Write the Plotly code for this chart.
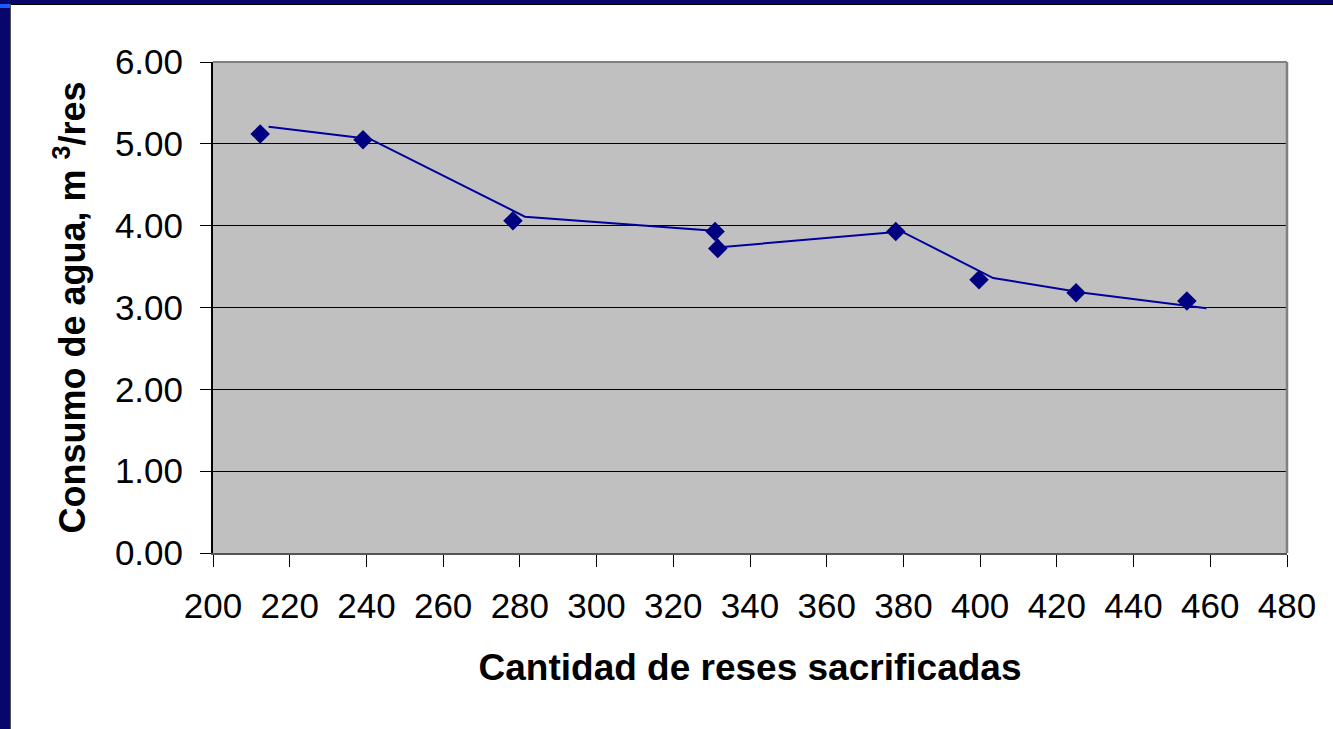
import plotly.graph_objects as go

# Data
marker_x = [212.3, 239.1, 278.2, 330.9, 331.6, 378.0, 399.7, 425.0, 453.9]
marker_y = [5.12, 5.05, 4.06, 3.93, 3.72, 3.93, 3.34, 3.18, 3.08]
line_x = [214.5, 240.9, 281.3, 329.6, 333.0, 379.5, 403.4, 426.9, 459.0]
line_y = [5.21, 5.06, 4.11, 3.94, 3.74, 3.93, 3.36, 3.18, 2.99]
x_ticks = list(range(200, 481, 20))
y_ticks = [0, 1, 2, 3, 4, 5, 6]
y_tick_labels = ["0.00", "1.00", "2.00", "3.00", "4.00", "5.00", "6.00"]

W, H = 1333, 729
L, R, T, B = 213, 1287, 62, 553

fig = go.Figure()
fig.add_trace(go.Scatter(x=line_x, y=line_y, mode="lines",
                         line=dict(color="#00009C", width=2), hoverinfo="skip"))
fig.add_trace(go.Scatter(x=marker_x, y=marker_y, mode="markers",
                         marker=dict(symbol="diamond", size=15, color="#000080",
                                     line=dict(width=0))))

def px_x(p):
    return (p - L) / (R - L)

def px_y(p):
    return (B - p) / (B - T)

shapes = [
    # top navy strip
    dict(type="rect", xref="paper", yref="paper", x0=px_x(0), x1=px_x(W), y0=px_y(0), y1=px_y(4),
         fillcolor="#06066B", line=dict(width=0), layer="above"),
    dict(type="line", xref="paper", yref="paper", x0=px_x(10), x1=px_x(W), y0=px_y(4.5), y1=px_y(4.5),
         line=dict(color="#000000", width=1)),
    # left navy strip
    dict(type="rect", xref="paper", yref="paper", x0=px_x(0), x1=px_x(10), y0=px_y(0), y1=px_y(H),
         fillcolor="#06066B", line=dict(width=0), layer="above"),
    dict(type="line", xref="paper", yref="paper", x0=px_x(10.5), x1=px_x(10.5), y0=px_y(4), y1=px_y(H),
         line=dict(color="#555555", width=1)),
    # bright corner
    dict(type="rect", xref="paper", yref="paper", x0=px_x(0), x1=px_x(10), y0=px_y(4), y1=px_y(8),
         fillcolor="#1A5CFF", line=dict(width=0), layer="above"),
    # plot border top & right
    dict(type="line", xref="paper", yref="paper", x0=0, x1=1, y0=1, y1=1,
         line=dict(color="#808080", width=2)),
    dict(type="line", xref="paper", yref="paper", x0=1, x1=1, y0=0, y1=1,
         line=dict(color="#808080", width=2.5)),
]

fig.update_layout(
    width=W, height=H,
    margin=dict(l=L, r=W - R, t=T, b=H - B),
    paper_bgcolor="#FFFFFF",
    plot_bgcolor="#C0C0C0",
    showlegend=False,
    font=dict(family="Liberation Sans, Arial, sans-serif", color="#000000"),
    shapes=shapes,
    xaxis=dict(
        range=[200, 480], tickmode="array", tickvals=x_ticks,
        ticks="outside", ticklen=12, tickcolor="#000000", tickwidth=1,
        showgrid=False, zeroline=False,
        showline=True, linecolor="#555555", linewidth=2,
        tickfont=dict(size=35), ticklabelstandoff=9,
        title=dict(text="<b>Cantidad de reses sacrificadas</b>", font=dict(size=37), standoff=30),
    ),
    yaxis=dict(
        range=[0, 6], tickmode="array", tickvals=y_ticks, ticktext=y_tick_labels,
        ticks="outside", ticklen=11, tickcolor="#000000", tickwidth=1,
        showgrid=True, gridcolor="#000000", gridwidth=1, zeroline=False,
        showline=True, linecolor="#000000", linewidth=2,
        tickfont=dict(size=35), ticklabelstandoff=10,
        title=dict(text="<b>Consumo de agua, m <sup>3</sup>/res</b>", font=dict(size=36), standoff=18),
    ),
)

fig.write_html("out.html", config={"displayModeBar": False},
               post_script="document.body.style.margin='0';")
